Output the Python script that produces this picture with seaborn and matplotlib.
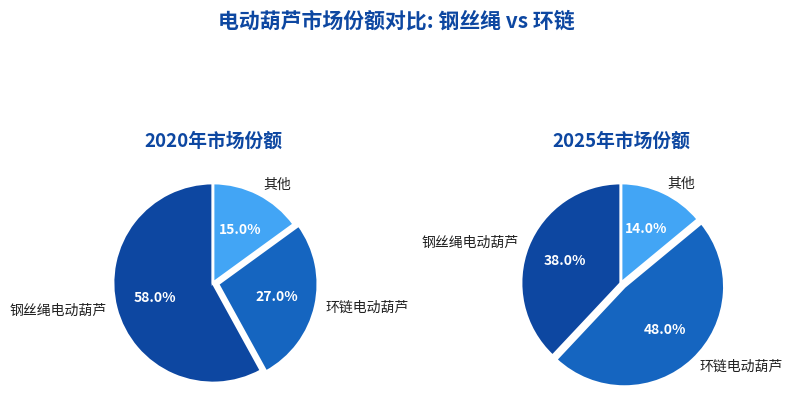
import matplotlib
matplotlib.use("Agg")
import matplotlib.pyplot as plt
import seaborn as sns

categories = ["钢丝绳电动葫芦", "环链电动葫芦", "其他"]
share_2020 = [58.0, 27.0, 15.0]
share_2025 = [38.0, 48.0, 14.0]
titles = ["2020年市场份额", "2025年市场份额"]
suptitle = "电动葫芦市场份额对比: 钢丝绳 vs 环链"
colors = ["#0D47A1", "#1565C0", "#42A5F5"]
explode = [0, 0.05, 0]

sns.set_theme(style="white")
plt.rcParams['font.family'] = ['Noto Sans CJK SC', 'DejaVu Sans']

W, H = 792, 417
fig = plt.figure(figsize=(W / 100, H / 100), dpi=100)
side = 250
centers = [(213, 283), (621, 283)]
axes = []
for cx, cy in centers:
    ax = fig.add_axes([(cx - side / 2) / W, (H - cy - side / 2) / H, side / W, side / H])
    axes.append(ax)

for ax, vals, title in zip(axes, [share_2020, share_2025], titles):
    wedges, texts, autotexts = ax.pie(
        vals, labels=categories, colors=colors, explode=explode,
        startangle=90, autopct="%1.1f%%", pctdistance=0.6, labeldistance=1.1,
        wedgeprops=dict(edgecolor="white", linewidth=2),
        textprops=dict(fontsize=10, color="#222222"))
    for t in autotexts:
        t.set_color("white")
        t.set_fontweight("bold")
        t.set_fontsize(10)
    ax.set_aspect("equal")
    ax.set_title(title, fontsize=13.5, fontweight="bold", color="#0D47A1", pad=8)

fig.suptitle(suptitle, fontsize=15, fontweight="bold", color="#0D47A1", y=0.975)
fig.savefig("out.png", dpi=100, facecolor="white")
